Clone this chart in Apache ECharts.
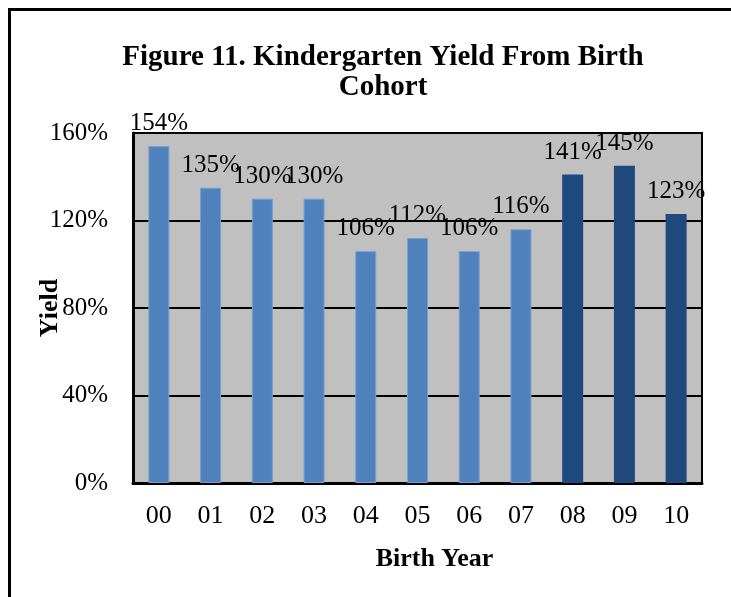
<!DOCTYPE html>
<html>
<head>
<meta charset="utf-8">
<script src="https://cdn.jsdelivr.net/npm/echarts@6/dist/echarts.min.js"></script>
<style>
  html, body { margin: 0; padding: 0; background: #fff; }
  #main { width: 731px; height: 597px; }
</style>
</head>
<body>
<div id="main"></div>
<script>
// birth years (x axis)
const birthYears = ['00', '01', '02', '03', '04', '05', '06', '07', '08', '09', '10'];
// kindergarten yield, percent
const yieldPct = [154, 135, 130, 130, 106, 112, 106, 116, 141, 145, 123];
// years from this index on are drawn in the dark colour
const firstDarkIdx = 8;
const yTicks = [0, 40, 80, 120, 160];

const serif = '"Liberation Serif", "Times New Roman", serif';

// split into two series so the last three bars get the dark colour
const lightData = yieldPct.map((v, i) => (i < firstDarkIdx ? v : '-'));
const darkData = yieldPct.map((v, i) => (i >= firstDarkIdx ? v : '-'));

const labelStyle = {
  show: true,
  position: 'top',
  distance: 10,
  formatter: '{c}%',
  color: '#000',
  fontFamily: serif,
  fontSize: 25,
};

const myChart = echarts.init(document.getElementById('main'));
const option = {
  backgroundColor: '#fff',
  animation: false,
  graphic: [
    { // outer frame
      type: 'rect',
      shape: { x: 9.5, y: 9.5, width: 760, height: 620 },
      style: { fill: 'none', stroke: '#000', lineWidth: 3 },
      z: -1,
    },
    {
      type: 'text',
      x: 383,
      y: 43,
      style: {
        text: 'Figure 11. Kindergarten Yield From Birth\nCohort',
        align: 'center',
        verticalAlign: 'top',
        fontFamily: serif,
        fontWeight: 'bold',
        fontSize: 29,
        lineHeight: 30,
        fill: '#000',
      },
    },
  ],
  grid: {
    left: 133,
    right: 29,
    top: 133,
    bottom: 114,
    show: true,
    backgroundColor: '#c0c0c0',
    borderColor: '#000',
    borderWidth: 2,
  },
  xAxis: {
    type: 'category',
    data: birthYears,
    name: 'Birth Year',
    nameLocation: 'middle',
    nameGap: 63,
    nameTextStyle: {
      fontFamily: serif, fontWeight: 'bold', fontSize: 26, color: '#000',
      padding: [0, 0, 0, 34],
    },
    axisLine: { lineStyle: { color: '#000', width: 3 } },
    axisTick: { show: true, alignWithLabel: true, inside: true, length: 6, lineStyle: { color: '#000', width: 2 } },
    axisLabel: { color: '#000', fontFamily: serif, fontSize: 26, margin: 20 },
  },
  yAxis: {
    type: 'value',
    min: yTicks[0],
    max: yTicks[yTicks.length - 1],
    interval: 40,
    name: 'Yield',
    nameLocation: 'middle',
    nameGap: 70,
    nameMoveOverlap: false,
    nameTextStyle: { fontFamily: serif, fontWeight: 'bold', fontSize: 26, color: '#000' },
    axisLine: { show: true, lineStyle: { color: '#000', width: 3 } },
    axisTick: { show: false },
    axisLabel: { formatter: '{value}%', color: '#000', fontFamily: serif, fontSize: 25, margin: 25 },
    splitLine: { show: true, lineStyle: { color: '#000', width: 2 } },
  },
  series: [
    {
      type: 'bar',
      data: lightData,
      barWidth: 21,
      barGap: '-100%',
      itemStyle: { color: '#4f81bd', borderColor: '#7a9ed0', borderWidth: 1 },
      label: labelStyle,
    },
    {
      type: 'bar',
      data: darkData,
      barWidth: 21,
      barGap: '-100%',
      itemStyle: { color: '#1f497d' },
      label: labelStyle,
    },
  ],
};
myChart.setOption(option);
</script>
</body>
</html>
